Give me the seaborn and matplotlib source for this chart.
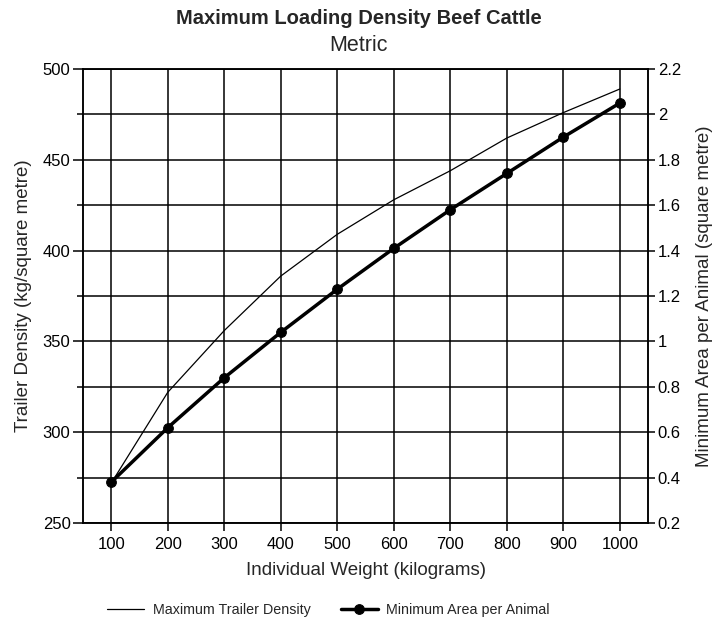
import matplotlib
matplotlib.use("Agg")
import matplotlib.pyplot as plt
import seaborn as sns
import pandas as pd
from matplotlib.ticker import MultipleLocator, FormatStrFormatter

# values
weights = [100, 200, 300, 400, 500, 600, 700, 800, 900, 1000]
trailer_density = [272, 322, 356, 386, 409, 428, 444, 462, 476, 489]
min_area = [0.38, 0.62, 0.84, 1.04, 1.23, 1.41, 1.58, 1.74, 1.90, 2.05]

df = pd.DataFrame({'weight': weights,
                   'density': trailer_density,
                   'area': min_area})

sns.set_theme(style='ticks')
plt.rcParams['font.family'] = ['Liberation Sans', 'DejaVu Sans']

fig = plt.figure(figsize=(7.17, 6.21), dpi=100)
ax = fig.add_axes([0.1158, 0.1578, 0.788, 0.731])
ax2 = ax.twinx()

sns.lineplot(data=df, x='weight', y='density', ax=ax,
             color='black', linewidth=0.9, label='Maximum Trailer Density',
             legend=False)
sns.lineplot(data=df, x='weight', y='area', ax=ax2,
             color='black', linewidth=2.5, marker='o', markersize=7,
             markeredgecolor='black', label='Minimum Area per Animal',
             legend=False)

ax.set_xlim(50, 1050)
ax.set_ylim(250, 500)
ax2.set_ylim(0.2, 2.2)

ax.set_xticks(weights)
ax.yaxis.set_major_locator(MultipleLocator(50))
ax.yaxis.set_minor_locator(MultipleLocator(25))
ax2.yaxis.set_major_locator(MultipleLocator(0.2))
ax2.yaxis.set_major_formatter(FormatStrFormatter('%g'))

ax.grid(True, which='both', axis='y', color='black', linewidth=1.1)
ax.grid(True, which='major', axis='x', color='black', linewidth=1.1)

for a in (ax, ax2):
    for s in a.spines.values():
        s.set_linewidth(1.1)
        s.set_color('black')
    a.tick_params(colors='black', labelsize=12, width=1.1)

ax.tick_params(axis='y', which='major', length=7, pad=2)
ax.tick_params(axis='y', which='minor', length=4, width=1.1, color='black')
ax.tick_params(axis='x', length=6, pad=4)
ax2.tick_params(axis='y', length=5, pad=2)

ax.set_xlabel('Individual Weight (kilograms)', fontsize=13.5, labelpad=7)
ax.set_ylabel('Trailer Density (kg/square metre)', fontsize=13.5,
              labelpad=8)
ax2.set_ylabel('Minimum Area per Animal (square metre)', fontsize=13.5,
               labelpad=11)

fig.text(0.5, 0.971, 'Maximum Loading Density Beef Cattle', ha='center',
         va='center', fontsize=14.5, fontweight='bold')
fig.text(0.5, 0.9275, 'Metric', ha='center', va='center', fontsize=15.5)

handles = ax.get_lines()[:1] + ax2.get_lines()[:1]
labels = ['Maximum Trailer Density', 'Minimum Area per Animal']
fig.legend(handles, labels, loc='center', ncol=2, frameon=False,
           fontsize=10.3, bbox_to_anchor=(0.458, 0.017), columnspacing=2.1,
           handlelength=2.6, handletextpad=0.6)

plt.savefig('out.png', dpi=100)
